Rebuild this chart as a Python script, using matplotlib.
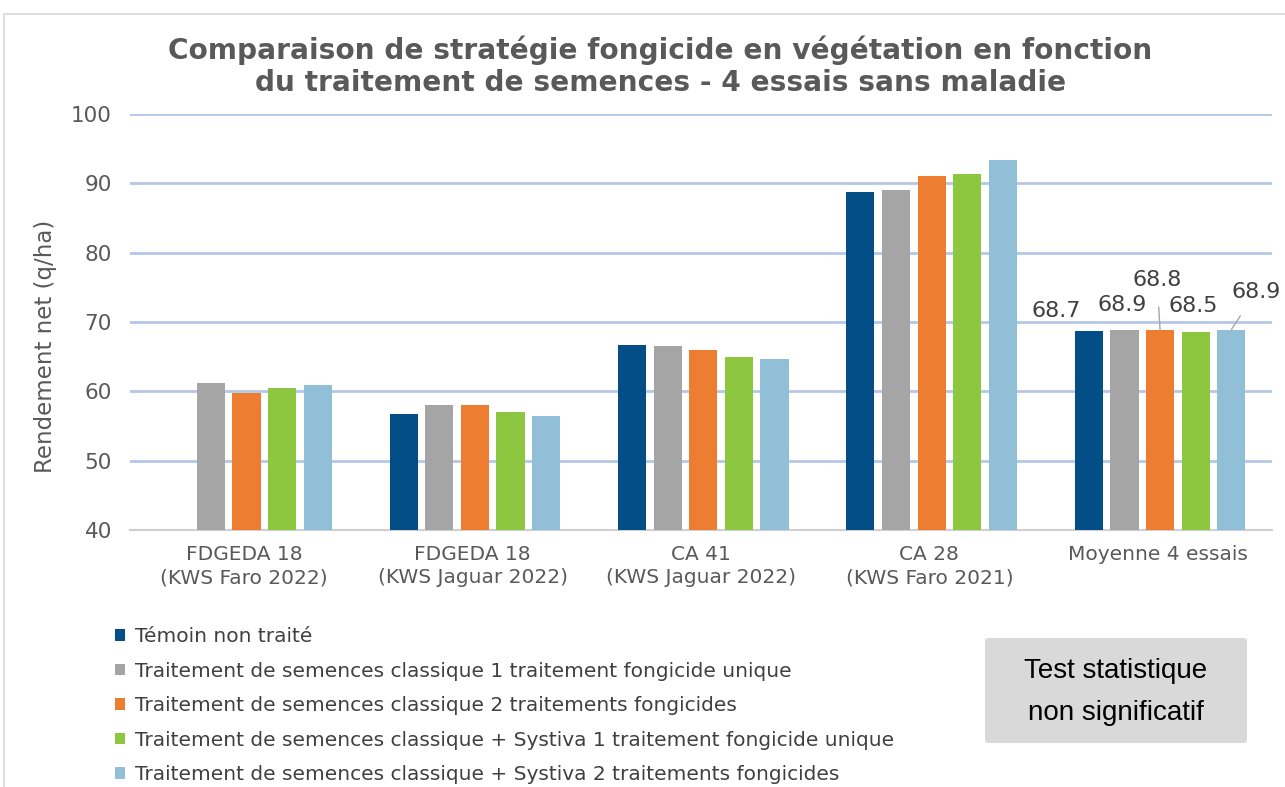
import numpy as np
import matplotlib.pyplot as plt
from matplotlib.patches import Patch, Rectangle, FancyBboxPatch

# data
sites = ["FDGEDA 18\n(KWS Faro 2022)", "FDGEDA 18\n(KWS Jaguar 2022)",
         "CA 41\n(KWS Jaguar 2022)", "CA 28\n(KWS Faro 2021)", "Moyenne 4 essais"]
series = ["Témoin non traité",
          "Traitement de semences classique 1 traitement fongicide unique",
          "Traitement de semences classique 2 traitements fongicides",
          "Traitement de semences classique + Systiva 1 traitement fongicide unique",
          "Traitement de semences classique + Systiva 2 traitements fongicides"]
temoin = [np.nan, 56.7, 66.7, 88.8, 68.7]
ts1 = [61.2, 58.0, 66.6, 89.1, 68.9]
ts2 = [59.8, 58.0, 66.0, 91.1, 68.8]
sys1 = [60.5, 57.0, 65.0, 91.4, 68.5]
sys2 = [60.9, 56.4, 64.7, 93.3, 68.9]
values = [temoin, ts1, ts2, sys1, sys2]
colors = ["#034e87", "#a5a5a5", "#ed7d31", "#8dc63f", "#92bfd8"]

# label offsets (pixels) for the "Moyenne" group
label_offsets = [(-33, 20), (-2, 25), (-3, 50), (-2, 26), (25, 38)]

fig = plt.figure(figsize=(12.85, 7.87), dpi=100)
fig.patches.append(Rectangle((4 / 1285, -0.1), 1.2, 1 - 14 / 787 + 0.1,
                             transform=fig.transFigure, fill=False,
                             edgecolor="#d9d9d9", linewidth=1.2))
ax = fig.add_axes([130 / 1285, 1 - 530 / 787, 1142 / 1285, 416 / 787])

x = np.arange(len(sites))
step = 0.156
width = 0.123
bars_by_series = []
for i, (vals, col) in enumerate(zip(values, colors)):
    b = ax.bar(x + (i - 2) * step + 0.01, vals, width, color=col, zorder=3)
    bars_by_series.append(b)

# data labels on the average group
for i, b in enumerate(bars_by_series):
    rect = b[-1]
    xc = rect.get_x() + rect.get_width() / 2
    yt = rect.get_height()
    dx, dy = label_offsets[i]
    lead = i in (2, 4)
    ax.annotate(f"{values[i][-1]:.1f}", xy=(xc, yt), xytext=(dx, dy),
                textcoords="offset pixels", ha="center", va="center",
                fontsize=16, color="#404040",
                arrowprops=dict(arrowstyle="-", color="#a6a6a6", lw=1,
                                shrinkA=10, shrinkB=0) if lead else None)

ax.set_ylim(40, 100)
ax.set_xlim(-0.5, 4.5)
ax.set_yticks(range(40, 101, 10))
ax.set_xticks(x)
ax.set_xticklabels(sites, fontsize=14.5, color="#595959", linespacing=1.25)
ax.tick_params(axis="y", labelsize=15.5, colors="#595959", length=0, pad=13)
ax.tick_params(axis="x", length=0, pad=11)
ax.grid(axis="y", color="#b4c7e7", linewidth=2, zorder=0)
for s in ["top", "right", "left"]:
    ax.spines[s].set_visible(False)
ax.spines["bottom"].set_color("#d0d0d0")
ax.spines["bottom"].set_linestyle((0, (1, 1)))
ax.spines["bottom"].set_linewidth(1.5)
ax.set_ylabel("Rendement net (q/ha)", fontsize=16.5, color="#595959")
ax.yaxis.set_label_coords(-0.064, 0.442)

fig.text(0.514, 1 - 66.5 / 787,
         "Comparaison de stratégie fongicide en végétation en fonction\n"
         "du traitement de semences - 4 essais sans maladie",
         ha="center", va="center", fontsize=20.2, fontweight="bold",
         color="#595959", linespacing=1.2)

handles = [Patch(facecolor=c, edgecolor="none") for c in colors]
fig.legend(handles, series, loc="upper left",
           bbox_to_anchor=(115 / 1285, 1 - 627 / 787), frameon=False,
           fontsize=14.5, labelcolor="#404040", handlelength=0.5,
           handleheight=0.5, handletextpad=0.5, labelspacing=0.77,
           borderaxespad=0, borderpad=0)

box = FancyBboxPatch((985 / 1285, 1 - 743 / 787), 262 / 1285, 105 / 787,
                     boxstyle="round,pad=0,rounding_size=0.003",
                     transform=fig.transFigure, facecolor="#d9d9d9",
                     edgecolor="none")
fig.patches.append(box)
fig.text(1116 / 1285, 1 - 692.5 / 787, "Test statistique\nnon significatif",
         ha="center", va="center", fontsize=20, family="Liberation Sans",
         color="black", linespacing=1.8)

fig.savefig("out.png", dpi=100)
